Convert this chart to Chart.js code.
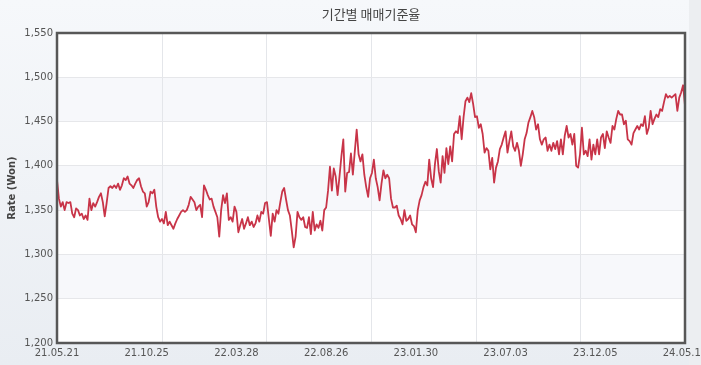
<!DOCTYPE html>
<html lang="ko">
<head>
<meta charset="utf-8">
<title>기간별 매매기준율</title>
<script src="https://cdn.jsdelivr.net/npm/chart.js@4/dist/chart.umd.min.js"></script>
<style>
    html, body {
        margin: 0;
        padding: 0;
    }
    body {
        width: 701px;
        height: 365px;
        overflow: hidden;
        background:
            linear-gradient(to right, rgba(0,0,0,0) 689px, #eceef1 689px),
            linear-gradient(to bottom, #f6f8fb, #e9edf2);
    }
    canvas {
        display: block;
    }
</style>
</head>
<body>
<canvas id="rateChart" width="701" height="365"></canvas>
<script>
// Tick labels on the date axis
const xLabels = ['21.05.21', '21.10.25', '22.03.28', '22.08.26', '23.01.30', '23.07.03', '23.12.05', '24.05.16'];

// Y axis range
const yTicks = [1200, 1250, 1300, 1350, 1400, 1450, 1500, 1550];

// Daily base rate (Won)
const rates2021 = [
    1384, 1363, 1354, 1359, 1350, 1359, 1358, 1359, 1346, 1342, 1352, 1350, 1344, 1346, 1340, 1344,
    1339, 1363, 1350, 1358, 1354, 1359, 1365, 1369, 1359, 1343, 1358, 1375, 1377, 1375, 1378, 1375,
    1380, 1373, 1378, 1386, 1384, 1388, 1380, 1378, 1375, 1380, 1384, 1386, 1377, 1371, 1369, 1354,
    1359, 1371, 1369, 1373, 1354, 1342, 1337, 1340, 1335, 1348, 1333, 1337, 1333, 1329, 1335, 1340,
    1344, 1348, 1350
];
const rates2022a = [
    1348, 1350, 1356, 1365, 1362, 1359, 1350, 1354, 1356, 1342, 1378, 1373, 1367, 1362, 1363, 1354,
    1348, 1342, 1320, 1350, 1367, 1358, 1369, 1339, 1342, 1337, 1354, 1348, 1325, 1333, 1340, 1329,
    1335, 1342, 1333, 1337, 1331, 1335, 1344, 1337, 1348, 1346, 1358, 1359, 1340, 1321, 1346, 1337,
    1350, 1346, 1359, 1371, 1375, 1362, 1350, 1344, 1327, 1308, 1320, 1348, 1342, 1339, 1342, 1331
];
const rates2022b = [
    1330, 1342, 1323, 1348, 1327, 1334, 1330, 1338, 1327, 1350, 1353, 1372, 1399, 1372, 1397, 1388,
    1367, 1388, 1411, 1430, 1371, 1392, 1393, 1414, 1390, 1416, 1441, 1413, 1405, 1413, 1390, 1376,
    1365, 1386, 1392, 1407, 1386, 1376, 1361, 1380, 1395, 1386, 1390, 1386, 1363, 1353, 1353, 1355,
    1344, 1340, 1334, 1350, 1338, 1340, 1344, 1334, 1332, 1325, 1350, 1361, 1367, 1376, 1382, 1378,
    1407, 1386, 1376
];
const rates2023 = [
    1402, 1419, 1394, 1381, 1411, 1392, 1420, 1402, 1422, 1405, 1436, 1439, 1437, 1456, 1430, 1455,
    1473, 1477, 1472, 1482, 1470, 1455, 1456, 1443, 1447, 1436, 1415, 1420, 1417, 1396, 1409, 1381,
    1398, 1405, 1419, 1424, 1432, 1439, 1415, 1428, 1439, 1422, 1417, 1426, 1417, 1400, 1413, 1430,
    1437, 1449, 1455, 1462, 1455, 1441, 1447, 1430, 1424, 1430, 1432, 1417, 1424, 1417, 1426, 1419,
    1428, 1413, 1430
];
const rates2024 = [
    1413, 1434, 1445, 1432, 1436, 1424, 1436, 1400, 1398, 1413, 1443, 1413, 1417, 1411, 1430, 1407,
    1424, 1413, 1430, 1413, 1432, 1436, 1420, 1439, 1432, 1426, 1445, 1441, 1453, 1462, 1458, 1458,
    1447, 1451, 1430, 1428, 1424, 1437, 1441, 1445, 1441, 1447, 1445, 1456, 1436, 1443, 1462, 1447,
    1453, 1458, 1455, 1464, 1462, 1472, 1481, 1477, 1479, 1477, 1479, 1481, 1462, 1477, 1483, 1491,
    1468
];

const rates = [].concat(rates2021, rates2022a, rates2022b, rates2023, rates2024);
const lastIndex = rates.length - 1;
const gridCount = 6; // vertical grid lines are spaced differently from the date labels

const axisFont = { family: 'DejaVu Sans', size: 10 };

// Plot background bands, vertical grid and the dark frame
const framePlugin = {
    id: 'frame',
    beforeDraw(chart) {
        const { ctx, chartArea: a, scales } = chart;
        ctx.save();
        ctx.fillStyle = '#ffffff';
        ctx.fillRect(a.left, a.top, a.right - a.left, a.bottom - a.top);
        ctx.fillStyle = '#f7f8fb';
        for (let i = 1; i < yTicks.length - 1; i += 2) {
            const y1 = scales.y.getPixelForValue(yTicks[i]);
            const y2 = scales.y.getPixelForValue(yTicks[i + 1]);
            ctx.fillRect(a.left, y2, a.right - a.left, y1 - y2);
        }
        ctx.strokeStyle = '#e4e6ea';
        ctx.lineWidth = 1;
        for (let i = 1; i < gridCount; i++) {
            const x = Math.round(scales.x.getPixelForValue(i * lastIndex / gridCount)) + 0.5;
            ctx.beginPath();
            ctx.moveTo(x, a.top);
            ctx.lineTo(x, a.bottom);
            ctx.stroke();
        }
        ctx.restore();
    },
    afterDraw(chart) {
        const { ctx, chartArea: a } = chart;
        ctx.save();
        ctx.strokeStyle = '#575757';
        ctx.lineWidth = 2.5;
        ctx.strokeRect(a.left, a.top, a.right - a.left, a.bottom - a.top);
        ctx.restore();
    }
};

document.addEventListener('DOMContentLoaded', function() {
    initializeChart();
});

function initializeChart() {
    const ctx = document.getElementById('rateChart').getContext('2d');
    new Chart(ctx, {
        type: 'line',
        data: {
            datasets: [{
                label: '매매기준율',
                data: rates.map((v, i) => ({ x: i, y: v })),
                borderColor: 'rgb(200, 52, 72)',
                borderWidth: 1.8,
                pointRadius: 0,
                tension: 0,
                borderJoinStyle: 'round'
            }]
        },
        plugins: [framePlugin],
        options: {
            responsive: false,
            animation: false,
            devicePixelRatio: 1,
            layout: {
                padding: { left: 0, right: 16, top: 0, bottom: 2 }
            },
            plugins: {
                legend: { display: false },
                tooltip: { enabled: false },
                title: {
                    display: true,
                    fullSize: false,
                    text: '기간별 매매기준율',
                    color: '#444444',
                    font: { family: 'Noto Sans CJK KR', size: 13, weight: 'normal' },
                    padding: { top: 6, bottom: 11.4 }
                }
            },
            scales: {
                x: {
                    type: 'linear',
                    min: 0,
                    max: lastIndex,
                    grid: { display: false, drawTicks: false },
                    border: { display: false },
                    afterBuildTicks: (scale) => {
                        scale.ticks = xLabels.map((l, i) => ({ value: i * lastIndex / (xLabels.length - 1) }));
                    },
                    afterFit: (scale) => {
                        scale.paddingLeft = 0;
                        scale.paddingRight = 0;
                    },
                    ticks: {
                        autoSkip: false,
                        maxRotation: 0,
                        padding: 4,
                        color: '#555555',
                        font: axisFont,
                        callback: (value, index) => xLabels[index]
                    }
                },
                y: {
                    min: yTicks[0],
                    max: yTicks[yTicks.length - 1],
                    afterFit: (scale) => {
                        scale.width = 57;
                    },
                    grid: {
                        color: '#e6e7ea',
                        drawTicks: false
                    },
                    border: { display: false },
                    ticks: {
                        stepSize: 50,
                        padding: 4,
                        color: '#555555',
                        font: axisFont,
                        callback: (value) => value.toLocaleString('en-US')
                    },
                    title: {
                        display: true,
                        text: 'Rate (Won)',
                        color: '#444444',
                        font: { family: 'DejaVu Sans', size: 10, weight: 'bold' },
                        padding: { top: 6, bottom: 0 }
                    }
                }
            }
        }
    });
}
</script>
</body>
</html>
